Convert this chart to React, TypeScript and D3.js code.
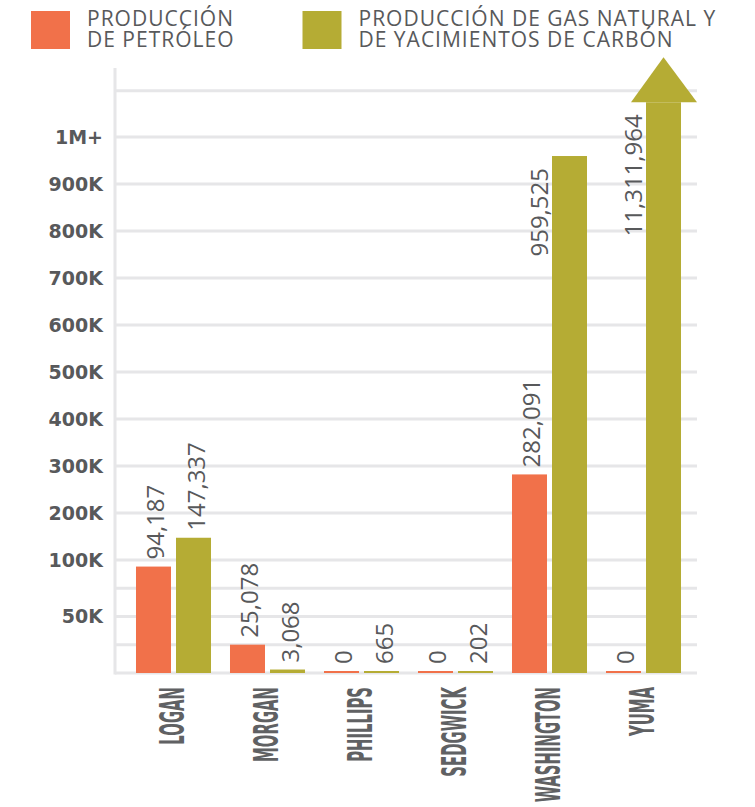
import React from "react";
import * as d3 from "d3";

const counties = ["LOGAN", "MORGAN", "PHILLIPS", "SEDGWICK", "WASHINGTON", "YUMA"];
const oilValues = [94187, 25078, 0, 0, 282091, 0];
const gasValues = [147337, 3068, 665, 202, 959525, 11311964];
const seriesKeys = ["oil", "gas"];
const seriesNames = [["PRODUCCIÓN", "DE PETRÓLEO"], ["PRODUCCIÓN DE GAS NATURAL Y", "DE YACIMIENTOS DE CARBÓN"]];
const gridValues = [25000, 50000, 75000, 100000, 200000, 300000, 400000, 500000, 600000, 700000, 800000, 900000, 1000000, 1100000];
const tickValues = [50000, 100000, 200000, 300000, 400000, 500000, 600000, 700000, 800000, 900000, 1000000];
const tickLabels = ["50K", "100K", "200K", "300K", "400K", "500K", "600K", "700K", "800K", "900K", "1M+"];
const capValue = 1075000;

const ORANGE = "#F1714A";
const OLIVE = "#B5AC34";
const GRID = "#E6E6E8";
const TEXT = "#58595B";

export default function App() {
  const y = d3.scaleLinear()
    .domain([0, 100000, 1000000, 1100000])
    .range([673, 560, 137, 90.7]);
  const x0 = d3.scaleBand<string>().domain(counties).range([126.5, 690.5]).paddingInner(0.202).paddingOuter(0.101);
  const x1 = d3.scaleBand<string>().domain(seriesKeys).range([0, x0.bandwidth()]).paddingInner(0.125);
  const colors = d3.scaleOrdinal<string, string>().domain(seriesKeys).range([ORANGE, OLIVE]);
  const fmt = d3.format(",");
  const base = y(0);
  const bw = x1.bandwidth();

  const bars: any[] = [];
  counties.forEach((c, i) => {
    [oilValues[i], gasValues[i]].forEach((v, j) => {
      const key = seriesKeys[j];
      const capped = v > capValue;
      const top = Math.min(y(Math.min(v, capValue)), base - 2);
      const left = (x0(c) as number) + (x1(key) as number);
      bars.push({ c, key, v, capped, top, left });
    });
  });

  return (
    <svg width={755} height={807} style={{ position: "absolute", left: 0, top: 0 }}>
      {/* legend */}
      {seriesKeys.map((k, i) => {
        const lx = i === 0 ? 31 : 302.5;
        return (
          <g key={k}>
            <rect x={lx} y={11} width={39} height={38} fill={colors(k)} />
            {seriesNames[i].map((t, li) => (
              <text key={li} x={lx + 56} y={26 + li * 21} fontFamily="'Open Sans', sans-serif" fontSize={21} letterSpacing={1} fill={TEXT}>{t}</text>
            ))}
          </g>
        );
      })}

      {/* grid */}
      {gridValues.map((g) => (
        <line key={g} x1={115} x2={697} y1={y(g)} y2={y(g)} stroke={GRID} strokeWidth={3} />
      ))}
      <line x1={115} x2={697} y1={base} y2={base} stroke={GRID} strokeWidth={3} />
      <line x1={115} x2={115} y1={68} y2={base + 1.5} stroke={GRID} strokeWidth={3} />

      {/* y tick labels */}
      {tickValues.map((t, i) => (
        <text key={t} x={103} y={y(t)} dy="0.36em" textAnchor="end" fontFamily="'DejaVu Sans', sans-serif" fontWeight="bold" fontSize={19} fill={TEXT}>{tickLabels[i]}</text>
      ))}

      {/* bars */}
      {bars.map((b) => (
        <g key={b.c + b.key}>
          <rect x={b.left} y={b.top} width={bw} height={base - b.top} fill={colors(b.key)} />
          {b.capped && (
            <path d={`M${b.left - 15},${b.top} L${b.left + bw / 2},${b.top - 45} L${b.left + bw + 16},${b.top} Z`} fill={colors(b.key)} />
          )}
        </g>
      ))}

      {/* value labels */}
      {bars.map((b) => {
        const inside = b.v > 900000;
        const bx = inside ? b.left - 4 : b.left + bw / 2 + 11;
        const by = inside ? b.top + 12 : b.top - 7;
        return (
          <text key={"l" + b.c + b.key} transform={`translate(${bx},${by}) rotate(-90)`} textAnchor={inside ? "end" : "start"}
            fontFamily="'Open Sans', sans-serif" fontSize={24} fill={TEXT}>{fmt(b.v)}</text>
        );
      })}

      {/* x labels */}
      {counties.map((c) => (
        <text key={c} transform={`translate(${(x0(c) as number) + x0.bandwidth() / 2 + 10.5},687) rotate(-90) scale(0.45,1)`}
          textAnchor="end" fontFamily="'DejaVu Sans', sans-serif" fontWeight="bold" fontSize={33} fill="#606163">{c}</text>
      ))}
    </svg>
  );
}
